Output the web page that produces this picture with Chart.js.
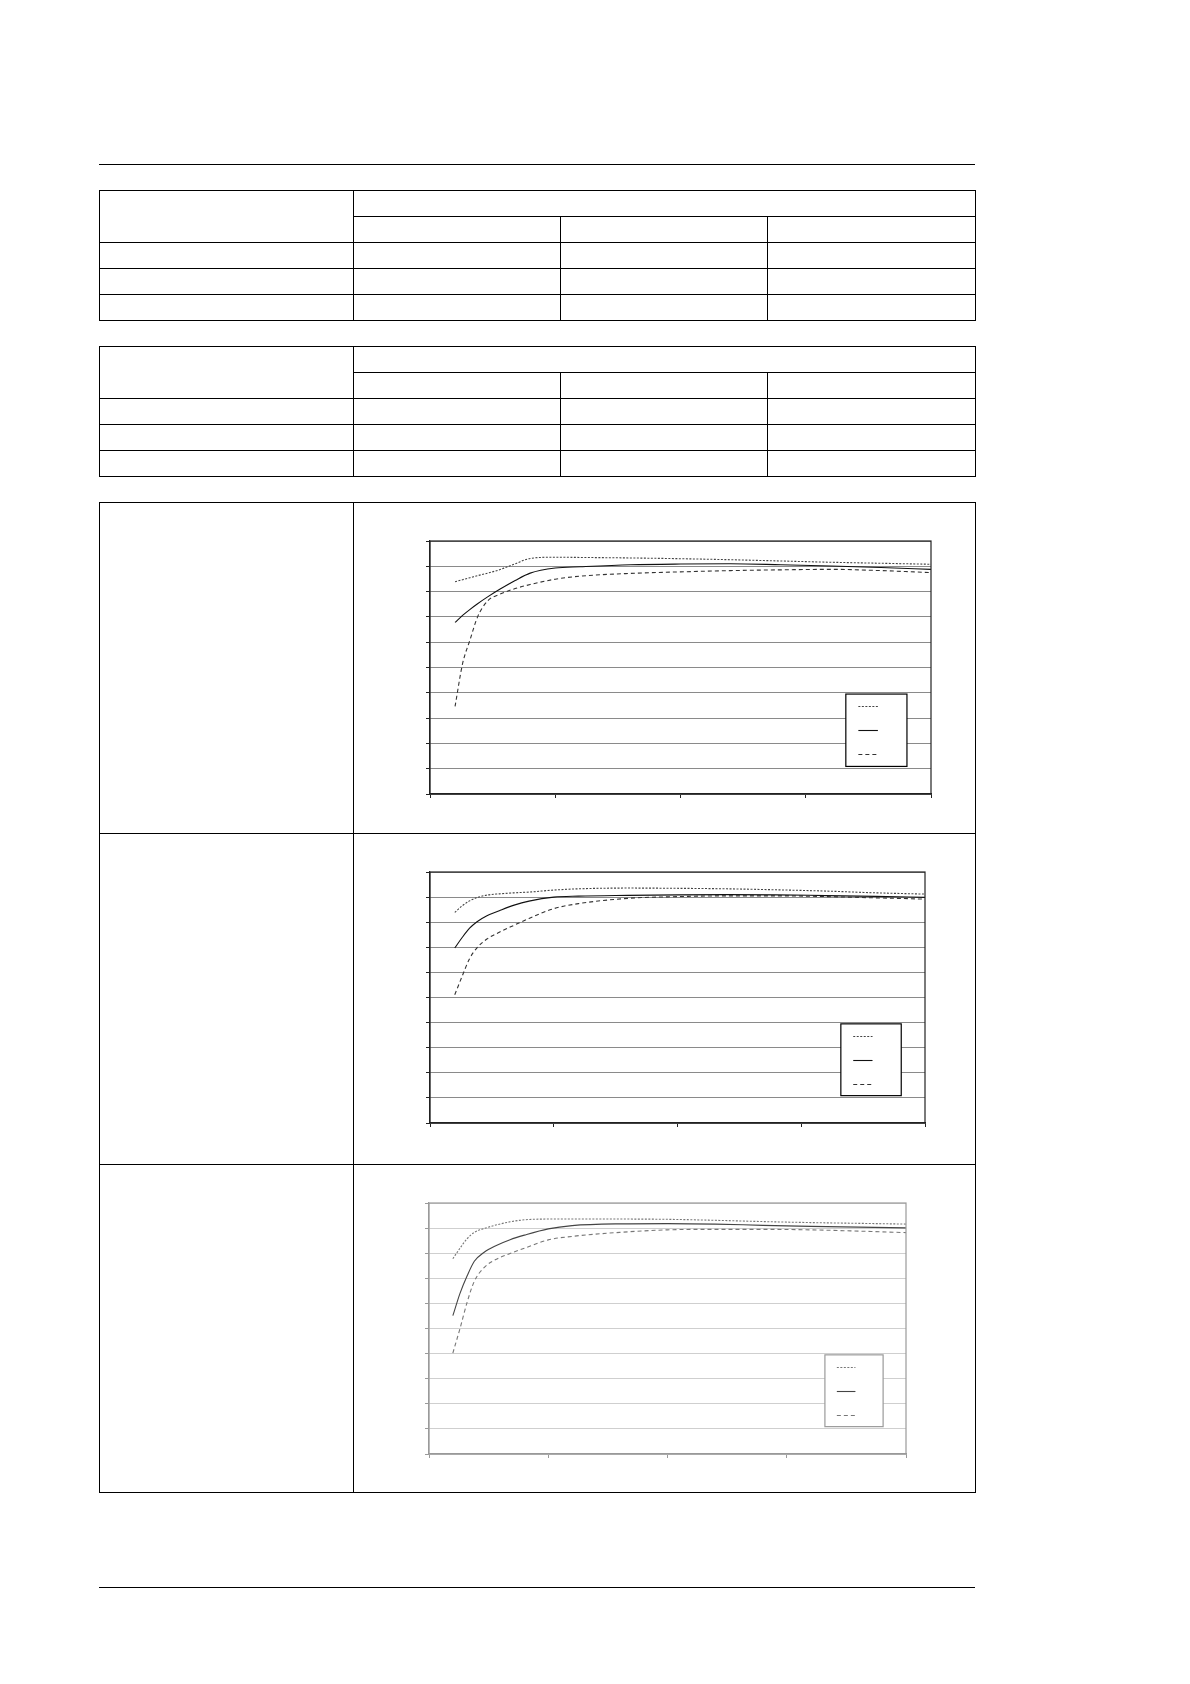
<!DOCTYPE html>
<html>
<head>
<meta charset="utf-8">
<script src="https://cdn.jsdelivr.net/npm/chart.js@4.4.0/dist/chart.umd.min.js"></script>
<style>
    body { margin: 0; background: #fff; }
    #page { position: relative; width: 1190px; height: 1684px; background: #fff; }
    .rule { position: absolute; left: 99px; width: 876px; border-top: 1.2px solid #000; }
    table.grid { position: absolute; left: 99px; width: 876px; border-collapse: collapse; table-layout: fixed; }
    table.grid td { border: 1.3px solid #000; padding: 0; }
    .small td { height: 25px; }
    .chartBox { position: absolute; }
</style>
</head>
<body>
<div id="page">
    <div class="rule" style="top:164px"></div>

    <table class="grid small" style="top:190px">
        <colgroup><col style="width:254px"><col style="width:207px"><col style="width:207px"><col style="width:208px"></colgroup>
        <tr><td rowspan="2"></td><td colspan="3"></td></tr>
        <tr><td></td><td></td><td></td></tr>
        <tr><td></td><td></td><td></td><td></td></tr>
        <tr><td></td><td></td><td></td><td></td></tr>
        <tr><td></td><td></td><td></td><td></td></tr>
    </table>

    <table class="grid small" style="top:346px">
        <colgroup><col style="width:254px"><col style="width:207px"><col style="width:207px"><col style="width:208px"></colgroup>
        <tr><td rowspan="2"></td><td colspan="3"></td></tr>
        <tr><td></td><td></td><td></td></tr>
        <tr><td></td><td></td><td></td><td></td></tr>
        <tr><td></td><td></td><td></td><td></td></tr>
        <tr><td></td><td></td><td></td><td></td></tr>
    </table>

    <table class="grid" style="top:502px">
        <colgroup><col style="width:254px"><col style="width:622px"></colgroup>
        <tr><td style="height:330px"></td><td></td></tr>
        <tr><td style="height:330px"></td><td></td></tr>
        <tr><td style="height:327px"></td><td></td></tr>
    </table>

    <div class="chartBox" id="box1"><canvas id="chart1"></canvas></div>
    <div class="chartBox" id="box2"><canvas id="chart2"></canvas></div>
    <div class="chartBox" id="box3"><canvas id="chart3"></canvas></div>

    <div class="rule" style="top:1587px"></div>
</div>

<script>
    // --- DATA ---
    const xPoints = [5, 6.5, 8, 9.5, 11.5, 14, 17, 20, 25, 30, 40, 50, 60, 70, 80, 90, 100];
    const xTicks = [0, 25, 50, 75, 100];
    const yTicks = [0, 10, 20, 30, 40, 50, 60, 70, 80, 90, 100];

    // chart 1
    const c1Dotted = [83.9, 84.7, 85.5, 86.3, 87.3, 88.7, 91.0, 93.1, 93.6, 93.5, 93.3, 93.0, 92.6, 92.1, 91.6, 91.2, 90.8];
    const c1Solid  = [67.8, 70.6, 73.0, 75.2, 77.9, 81.0, 84.4, 87.3, 89.3, 89.8, 90.6, 90.9, 91.0, 90.6, 90.1, 89.5, 88.8];
    const c1Dashed = [34.6, 51.5, 61.0, 70.0, 76.3, 79.0, 81.2, 82.8, 84.9, 86.1, 87.2, 87.8, 88.3, 88.6, 88.8, 88.3, 87.5];

    // chart 2
    const c2Dotted = [83.9, 86.5, 88.5, 89.8, 90.8, 91.3, 91.7, 92.0, 92.8, 93.3, 93.6, 93.5, 93.3, 92.9, 92.4, 91.7, 91.2];
    const c2Solid  = [69.7, 73.9, 77.6, 80.2, 82.6, 84.6, 86.8, 88.4, 90.0, 90.4, 90.7, 90.9, 91.0, 90.9, 90.6, 90.3, 89.9];
    const c2Dashed = [51.1, 58.5, 65.5, 69.8, 73.3, 76.0, 78.8, 81.5, 85.4, 87.4, 89.5, 90.2, 90.5, 90.5, 90.2, 89.7, 89.2];

    // chart 3
    const c3Dotted = [77.8, 82.0, 85.8, 88.3, 89.8, 91.2, 92.5, 93.3, 93.6, 93.6, 93.6, 93.5, 93.1, 92.6, 92.2, 91.9, 91.6];
    const c3Solid  = [55.1, 64.0, 71.0, 76.8, 80.3, 83.0, 85.4, 87.2, 89.7, 91.0, 91.7, 91.8, 91.6, 91.1, 90.7, 90.4, 90.1];
    const c3Dashed = [40.2, 50.0, 60.5, 68.8, 74.2, 77.5, 79.9, 82.0, 85.3, 86.7, 88.3, 89.3, 89.5, 89.5, 89.3, 88.8, 88.2];

    // --- LAYOUT (page px) ---
    const TICK = 4, PAD = 4;

    // frame round the plot area plus the boxed legend (labels are blank in the source)
    const framePlugin = {
        id: 'frameAndLegend',
        afterDraw(chart, args, opts) {
            const a = chart.chartArea;
            const ctx = chart.ctx;
            const w = a.right - a.left, h = a.bottom - a.top;
            ctx.save();
            ctx.strokeStyle = opts.frameColor;
            ctx.lineWidth = 1.2;
            ctx.strokeRect(a.left, a.top, w, h);

            // legend box
            const bx = a.left + w * 0.830, by = a.top + h * 0.605;
            const bw = w * 0.122, bh = h * 0.286;
            ctx.fillStyle = '#fff';
            ctx.fillRect(bx, by, bw, bh);
            ctx.strokeStyle = opts.legendColor;
            ctx.lineWidth = 1.2;
            ctx.strokeRect(bx, by, bw, bh);

            const sx1 = a.left + w * 0.855, sx2 = a.left + w * 0.894;
            const rows = [0.653, 0.748, 0.843];
            chart.data.datasets.forEach((ds, i) => {
                const y = Math.round(a.top + h * rows[i]) + 0.5;
                ctx.beginPath();
                ctx.setLineDash(ds.borderDash || []);
                ctx.strokeStyle = ds.borderColor;
                ctx.lineWidth = ds.borderWidth;
                ctx.moveTo(sx1, y);
                ctx.lineTo(sx2, y);
                ctx.stroke();
            });
            ctx.restore();
        }
    };

    function makeChart(id, boxId, area, series, look) {
        const box = document.getElementById(boxId);
        box.style.left = (area.left - TICK - PAD) + 'px';
        box.style.top = (area.top - PAD) + 'px';
        box.style.width = (area.right - area.left + TICK + 2 * PAD) + 'px';
        box.style.height = (area.bottom - area.top + TICK + 2 * PAD) + 'px';

        const styles = [
            { dash: [2, 1.5], color: look.dotted },
            { dash: [], color: look.solid },
            { dash: [4, 3], color: look.dashed }
        ];

        new Chart(document.getElementById(id).getContext('2d'), {
            type: 'line',
            data: {
                datasets: series.map((vals, i) => ({
                    label: '',
                    data: xPoints.map((x, k) => ({ x: x, y: vals[k] })),
                    borderColor: styles[i].color,
                    borderDash: styles[i].dash,
                    borderWidth: 1.1,
                    pointRadius: 0,
                    fill: false,
                    cubicInterpolationMode: 'monotone'
                }))
            },
            options: {
                responsive: true,
                maintainAspectRatio: false,
                animation: false,
                layout: { padding: PAD },
                plugins: {
                    legend: { display: false },
                    tooltip: { enabled: false },
                    frameAndLegend: { frameColor: look.frame, legendColor: look.legend }
                },
                scales: {
                    x: {
                        type: 'linear',
                        min: xTicks[0],
                        max: xTicks[xTicks.length - 1],
                        afterBuildTicks: s => { s.ticks = xTicks.map(v => ({ value: v })); },
                        ticks: { display: false },
                        grid: { drawOnChartArea: false, drawTicks: true, tickLength: TICK, color: look.frame },
                        border: { color: look.frame, width: 1.2 }
                    },
                    y: {
                        min: yTicks[0],
                        max: yTicks[yTicks.length - 1],
                        afterBuildTicks: s => { s.ticks = yTicks.map(v => ({ value: v })); },
                        ticks: { display: false },
                        grid: { color: look.grid, lineWidth: 1, tickLength: TICK, tickColor: look.frame },
                        border: { color: look.frame, width: 1.2 }
                    }
                }
            },
            plugins: [framePlugin]
        });
    }

    const darkLook = { dotted: '#444', solid: '#111', dashed: '#333', frame: '#222', legend: '#000', grid: '#8a8a8a' };
    const greyLook = { dotted: '#777', solid: '#444', dashed: '#777', frame: '#9a9a9a', legend: '#9a9a9a', grid: '#cfcfcf' };

    makeChart('chart1', 'box1', { left: 430, right: 931, top: 541, bottom: 794 }, [c1Dotted, c1Solid, c1Dashed], darkLook);
    makeChart('chart2', 'box2', { left: 430, right: 925, top: 872, bottom: 1123 }, [c2Dotted, c2Solid, c2Dashed], darkLook);
    makeChart('chart3', 'box3', { left: 429, right: 906, top: 1203, bottom: 1454 }, [c3Dotted, c3Solid, c3Dashed], greyLook);
</script>
</body>
</html>
